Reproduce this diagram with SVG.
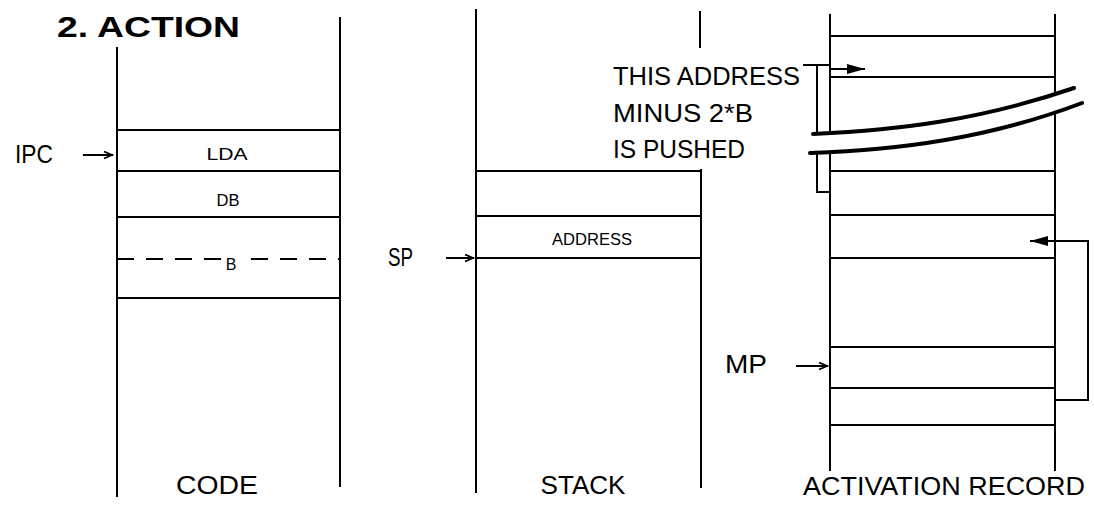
<svg xmlns="http://www.w3.org/2000/svg" width="1094" height="508" viewBox="0 0 1094 508">
<style>
.ln{stroke:#000;stroke-width:2;fill:none;stroke-linecap:square}
.brk{stroke:#000;stroke-width:4;fill:none;stroke-linecap:round}
.t{font-family:"Liberation Sans",Arial,sans-serif;fill:#000}
.big{font-size:26px}
.sm{font-size:16px}
</style>
<defs>
<marker id="open" markerUnits="userSpaceOnUse" markerWidth="12" markerHeight="10" refX="9" refY="4" orient="auto">
<path d="M1,0.5 L9,4 L1,7.5" fill="none" stroke="#000" stroke-width="1.8"/>
</marker>
<marker id="solid" markerUnits="userSpaceOnUse" markerWidth="20" markerHeight="12" refX="17" refY="5" orient="auto">
<path d="M0,0 L18,5 L0,10 Z" fill="#000"/>
</marker>
</defs>
<rect width="1094" height="508" fill="#fff"/>
<text class="t" x="57" y="37" font-size="29" font-weight="bold" textLength="183" lengthAdjust="spacingAndGlyphs">2. ACTION</text>

<g id="code">
<path class="ln" d="M117,48 V496 M340,18 V486 M117,130 H340 M117,171 H340 M117,217 H340 M117,298 H340"/>
<path class="ln" stroke-dasharray="15 14" stroke-linecap="butt" d="M118,259 H222 M252,259 H340"/>
<text class="t sm" x="227" y="160" text-anchor="middle" textLength="41" lengthAdjust="spacingAndGlyphs">LDA</text>
<text class="t sm" x="228" y="206" text-anchor="middle" textLength="23" lengthAdjust="spacingAndGlyphs">DB</text>
<text class="t sm" x="231" y="270" text-anchor="middle">B</text>
<text class="t big" x="217" y="494" text-anchor="middle" textLength="82" lengthAdjust="spacingAndGlyphs">CODE</text>
</g>

<g id="stack">
<path class="ln" d="M476,10 V492 M700,12 V47 M701,170 V487 M476,171 H701 M476,216 H701 M476,258 H701"/>
<text class="t sm" x="592" y="245" text-anchor="middle" textLength="80" lengthAdjust="spacingAndGlyphs">ADDRESS</text>
<text class="t big" x="583" y="494" text-anchor="middle" textLength="85" lengthAdjust="spacingAndGlyphs">STACK</text>
</g>

<g id="activation-record">
<path class="ln" d="M830,15 V470 M1055,15 V470 M830,36 H1055 M830,77 H1055 M830,171 H1055 M830,215 H1055 M830,258 H1055 M830,347 H1055 M830,388 H1055 M830,425 H1055"/>
<text class="t big" x="944" y="495" text-anchor="middle" textLength="282" lengthAdjust="spacingAndGlyphs">ACTIVATION RECORD</text>
</g>

<g id="labels">
<text class="t big" x="15" y="163" textLength="38" lengthAdjust="spacingAndGlyphs">IPC</text>
<text class="t big" x="388" y="266" textLength="25" lengthAdjust="spacingAndGlyphs">SP</text>
<text class="t big" x="725" y="373" textLength="42" lengthAdjust="spacingAndGlyphs">MP</text>
<text class="t big" x="613" y="85" textLength="187" lengthAdjust="spacingAndGlyphs">THIS ADDRESS</text>
<text class="t big" x="613" y="122" textLength="140" lengthAdjust="spacingAndGlyphs">MINUS 2*B</text>
<text class="t big" x="613" y="158" textLength="132" lengthAdjust="spacingAndGlyphs">IS PUSHED</text>
</g>

<g id="connectors">
<path class="ln" d="M84,155 H112" marker-end="url(#open)"/>
<path class="ln" d="M447,258 H473" marker-end="url(#open)"/>
<path class="ln" d="M797,366 H827" marker-end="url(#open)"/>
<path class="ln" d="M804,65 H830 M817,65 V133 M817,153 V192 H830"/>
<path class="ln" d="M832,69 H864" marker-end="url(#solid)"/>
<path class="ln" stroke-linecap="butt" d="M1056,400 H1088 V241 H1031" marker-end="url(#solid)"/>
</g>

<g id="break">
<path d="M813,134 C900,130 980,120 1074,88 L1082,103 C990,138 900,150 810,153 Z" fill="#fff"/>
<path class="brk" d="M813,134 C900,130 980,120 1074,88"/>
<path class="brk" d="M810,153 C900,150 990,138 1082,103"/>
</g>
</svg>
